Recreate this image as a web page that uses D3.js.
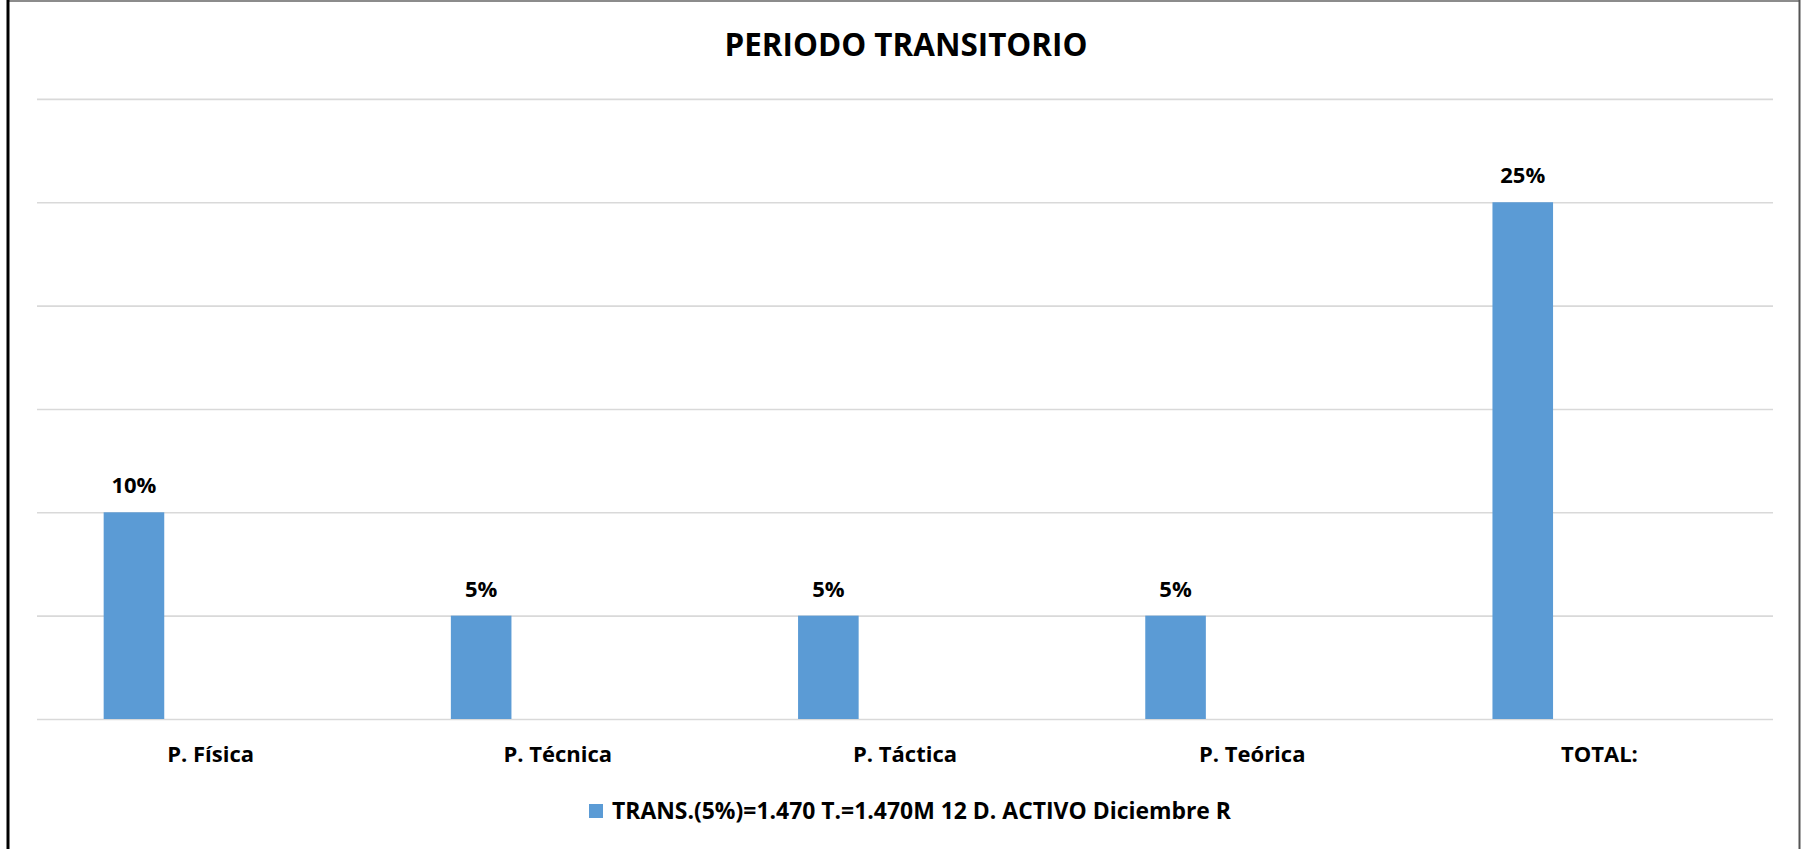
<!DOCTYPE html>
<html>
<head>
<meta charset="utf-8">
<script src="https://cdn.jsdelivr.net/npm/d3@7"></script>
<style>
  html, body { margin: 0; padding: 0; background: #ffffff; }
  svg { display: block; }
  text { font-family: "Open Sans", sans-serif; font-weight: bold; fill: #000; }
</style>
</head>
<body>
<svg id="chart" width="1803" height="849"></svg>
<script>
// Chart data
const title = "PERIODO TRANSITORIO";
const categories = ["P. Física", "P. Técnica", "P. Táctica", "P. Teórica", "TOTAL:"];
const values = [0.10, 0.05, 0.05, 0.05, 0.25];
const seriesName = "TRANS.(5%)=1.470 T.=1.470M 12 D. ACTIVO Diciembre R";
const gridTicks = [0, 0.05, 0.10, 0.15, 0.20, 0.25, 0.30];

const W = 1803, H = 849;
const plot = { left: 37, right: 1773, top: 98.9, bottom: 719 };
const barColor = "#5B9BD5";
const labelFont = "'Open Sans', sans-serif";

const svg = d3.select("#chart");

// Frame of the chart area
svg.append("line").attr("x1", 8).attr("x2", 1800).attr("y1", 1).attr("y2", 1)
  .attr("stroke", "#8c8c8c").attr("stroke-width", 2);
svg.append("line").attr("x1", 8).attr("x2", 8).attr("y1", 0).attr("y2", H)
  .attr("stroke", "#000").attr("stroke-width", 3);
svg.append("line").attr("x1", 1799.5).attr("x2", 1799.5).attr("y1", 0).attr("y2", H)
  .attr("stroke", "#555").attr("stroke-width", 2);

// Scales
const x = d3.scaleBand().domain(categories).range([plot.left, plot.right]).padding(0);
const y = d3.scaleLinear().domain([0, 0.30]).range([plot.bottom, plot.top]);

// Horizontal gridlines
const yAxis = d3.axisLeft(y).tickValues(gridTicks)
  .tickSize(-(plot.right - plot.left)).tickFormat("");
const gy = svg.append("g").attr("transform", `translate(${plot.left},0)`).call(yAxis);
gy.select(".domain").remove();
gy.selectAll(".tick line").attr("stroke", "#d9d9d9").attr("stroke-width", 1.6);

// Bars sit in the left part of each category slot
const barOffset = x.bandwidth() * 0.192;
const barWidth = x.bandwidth() * 0.1745;
const data = categories.map((c, i) => ({ cat: c, val: values[i] }));

svg.append("g").selectAll("rect").data(data).join("rect")
  .attr("x", d => x(d.cat) + barOffset)
  .attr("width", barWidth)
  .attr("y", d => y(d.val))
  .attr("height", d => y(0) - y(d.val))
  .attr("fill", barColor);

// Value labels
const pct = d3.format(".0%");
svg.append("g").selectAll("text").data(data).join("text")
  .attr("x", d => x(d.cat) + barOffset + barWidth / 2)
  .attr("y", d => y(d.val) - 19)
  .attr("text-anchor", "middle")
  .attr("font-size", 22)
  .text(d => pct(d.val));

// Category axis labels
const xAxis = d3.axisBottom(x).tickSize(0).tickPadding(0);
const gx = svg.append("g").attr("transform", `translate(0,${plot.bottom})`).call(xAxis);
gx.select(".domain").remove();
gx.selectAll(".tick text")
  .attr("dy", null).attr("y", 43)
  .attr("font-size", 22)
  .attr("font-family", null)
  .style("font-family", labelFont)
  .style("font-weight", "bold")
  .attr("fill", "#000");

// Title
svg.append("text")
  .attr("x", 906).attr("y", 56)
  .attr("text-anchor", "middle")
  .attr("font-size", 32)
  .attr("textLength", 363).attr("lengthAdjust", "spacingAndGlyphs")
  .text(title);

// Legend
const legend = svg.append("g");
legend.append("rect").attr("x", 589).attr("y", 804).attr("width", 14).attr("height", 14)
  .attr("fill", barColor);
legend.append("text").attr("x", 612).attr("y", 819)
  .attr("font-size", 23)
  .attr("textLength", 619).attr("lengthAdjust", "spacingAndGlyphs")
  .text(seriesName);
</script>
</body>
</html>
